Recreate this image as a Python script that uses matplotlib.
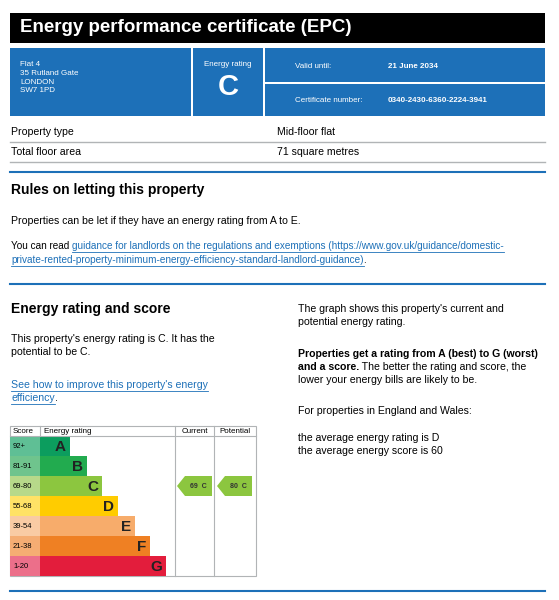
import matplotlib
matplotlib.use("Agg")
import matplotlib.pyplot as plt
from matplotlib.patches import Rectangle, Polygon

plt.rcParams['font.family'] = ['Liberation Sans', 'DejaVu Sans']

bands = ["A", "B", "C", "D", "E", "F", "G"]
score_ranges = ["92+", "81-91", "69-80", "55-68", "39-54", "21-38", "1-20"]
bar_ends = [70, 87, 102, 118, 135, 150, 166]
colors = ["#0c9d5e", "#22ab4f", "#8cc63f", "#ffcc00", "#f7ac6b", "#ef8023", "#e31d3c"]
light = ["#5fbf95", "#6fc48d", "#b7d98a", "#ffe266", "#f9cba4", "#f5ad73", "#ec6f8a"]
current_score, current_band = 69, "C"
potential_score, potential_band = 80, "C"

BLUE = "#1d70b8"
FS = 7.6
fig = plt.figure(figsize=(5.59, 6.0), dpi=100)
ax = fig.add_axes([0, 0, 1, 1])
ax.set_xlim(0, 559); ax.set_ylim(600, 0); ax.axis("off")
fig.canvas.draw()
renderer = fig.canvas.get_renderer()

def rect(x0, y0, x1, y1, c, **kw):
    ax.add_patch(Rectangle((x0, y0), x1 - x0, y1 - y0, color=c, lw=0, **kw))

def txt(x, y, s, size=FS, **kw):
    return ax.text(x, y, s, fontsize=size, va="center", **kw)

def line(x, y, segs, size=FS):
    """segs: list of (text, color, bold, underline)"""
    for s, c, b, u in segs:
        t = txt(x, y, s, size, color=c, weight="bold" if b else "normal")
        w = t.get_window_extent(renderer).width
        if u:
            ax.plot([x, x + w], [y + 5.5, y + 5.5], color=c, lw=0.6)
        x += w

# header
rect(10, 13, 545, 43, "black")
txt(20, 28, "Energy performance certificate (EPC)", 13.5, color="white", weight="bold")
rect(10, 48, 191, 116, BLUE); rect(193, 48, 263, 116, BLUE)
rect(265, 48, 545, 82, BLUE); rect(265, 84, 545, 116, BLUE)
for i, s in enumerate(["Flat 4", "35 Rutland Gate", "LONDON", "SW7 1PD"]):
    txt(20, 65 + i * 8.5, s, 5.8, color="white")
txt(228, 64, "Energy rating", 5.8, color="white", ha="center")
txt(228, 87, "C", 21, color="white", ha="center", weight="bold")
txt(295, 67, "Valid until:", 5.8, color="white")
txt(388, 67, "21 June 2034", 5.8, color="white", weight="bold")
txt(295, 101, "Certificate number:", 5.8, color="white")
txt(388, 101, "0340-2430-6360-2224-3941", 5.8, color="white", weight="bold")

txt(11, 132, "Property type"); txt(277, 132, "Mid-floor flat")
ax.plot([10, 545], [142, 142], color="#b1b4b6", lw=1)
txt(11, 152, "Total floor area"); txt(277, 152, "71 square metres")
ax.plot([10, 545], [162, 162], color="#b1b4b6", lw=1)
ax.plot([10, 545], [172, 172], color=BLUE, lw=1.5)

txt(11, 190, "Rules on letting this property", 10, weight="bold")
txt(11, 221, "Properties can be let if they have an energy rating from A to E.")
line(11, 246, [("You can read ", "black", False, False),
               ("guidance for landlords on the regulations and exemptions (https://www.gov.uk/guidance/domestic-", BLUE, False, True)], 7.2)
line(11, 260, [("private-rented-property-minimum-energy-efficiency-standard-landlord-guidance)", BLUE, False, True),
               (".", "black", False, False)], 7.2)
ax.plot([10, 545], [284, 284], color=BLUE, lw=1.5)

txt(11, 309, "Energy rating and score", 10, weight="bold")
txt(11, 339, "This property's energy rating is C. It has the")
txt(11, 352, "potential to be C.")
line(11, 385, [("See how to improve this property's energy", BLUE, False, True)])
line(11, 398, [("efficiency", BLUE, False, True), (".", "black", False, False)])

rx = 298
txt(rx, 309, "The graph shows this property's current and")
txt(rx, 322, "potential energy rating.")
txt(rx, 354, "Properties get a rating from A (best) to G (worst)", weight="bold")
line(rx, 367, [("and a score.", "black", True, False),
               (" The better the rating and score, the", "black", False, False)])
txt(rx, 380, "lower your energy bills are likely to be.")
txt(rx, 411, "For properties in England and Wales:")
txt(rx, 438, "the average energy rating is D")
txt(rx, 451, "the average energy score is 60")

# EPC chart
top, hdr, rowh = 426, 436, 20
ax.add_patch(Rectangle((10, top), 246, 576 - top, fill=False, ec="#b1b4b6", lw=0.8))
for xx in (175, 214):
    ax.plot([xx, xx], [top, 576], color="#b1b4b6", lw=0.8)
ax.plot([10, 256], [hdr, hdr], color="#b1b4b6", lw=0.8)
ax.plot([40, 40], [top, hdr], color="#b1b4b6", lw=0.8)
txt(13, 431.5, "Score", 5.8); txt(44, 431.5, "Energy rating", 5.8)
txt(194.5, 431.5, "Current", 5.8, ha="center"); txt(235, 431.5, "Potential", 5.8, ha="center")
ys = [hdr + rowh * i + rowh / 2 for i in range(len(bands))]
ax.barh(ys, [30] * 7, left=10, height=rowh, color=light)
ax.barh(ys, [e - 40 for e in bar_ends], left=40, height=rowh, color=colors)
for y, b, s, e in zip(ys, bands, score_ranges, bar_ends):
    txt(13, y, s, 5.5)
    txt(e - 4, y + 1, b, 11, weight="bold", ha="right", color="#222")

def arrow(x0, x1, score, band):
    y = ys[bands.index(band)]
    ax.add_patch(Polygon([(x0, y), (x0 + 8, y - 10), (x1, y - 10), (x1, y + 10), (x0 + 8, y + 10)],
                         color=colors[bands.index(band)], lw=0))
    txt((x0 + x1) / 2 + 4, y, f"{score}  {band}", 5, ha="center", weight="bold", color="#333")
arrow(177, 212, current_score, current_band)
arrow(217, 252, potential_score, potential_band)

ax.plot([10, 545], [591, 591], color=BLUE, lw=1.5)
fig.savefig("out.png", dpi=100)
